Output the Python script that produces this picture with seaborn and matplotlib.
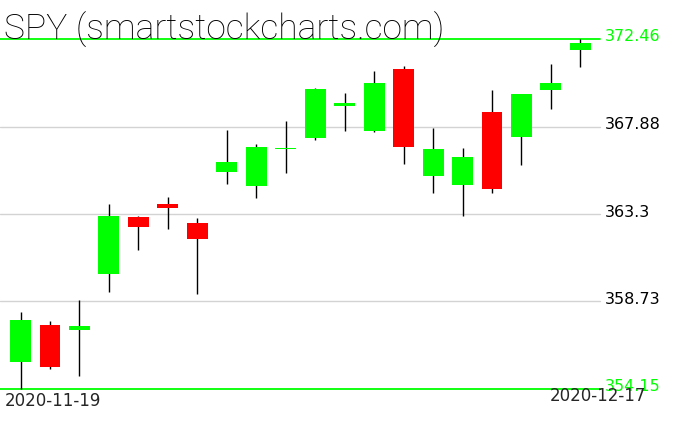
import matplotlib
matplotlib.use('Agg')
import matplotlib.pyplot as plt
import matplotlib.transforms as mtransforms
import seaborn as sns

# daily SPY candles
dates = ['2020-11-19', '2020-11-20', '2020-11-23', '2020-11-24', '2020-11-25',
         '2020-11-27', '2020-11-30', '2020-12-01', '2020-12-02', '2020-12-03',
         '2020-12-04', '2020-12-07', '2020-12-08', '2020-12-09', '2020-12-10',
         '2020-12-11', '2020-12-14', '2020-12-15', '2020-12-16', '2020-12-17']
opens = [355.58, 357.50, 357.24, 360.17, 363.15, 363.83, 362.83, 365.52, 364.79, 366.69,
         367.30, 368.97, 367.66, 370.89, 365.31, 364.84, 368.64, 367.35, 369.81, 371.90]
highs = [358.18, 357.71, 358.81, 363.83, 363.18, 364.19, 363.10, 367.70, 366.97, 368.17,
         369.88, 369.64, 370.79, 371.05, 367.80, 366.76, 369.78, 369.60, 371.15, 372.46]
lows = [354.15, 355.21, 354.85, 359.24, 361.44, 362.54, 359.14, 364.89, 364.16, 365.47,
        367.19, 367.66, 367.61, 365.94, 364.42, 363.22, 364.42, 365.88, 368.81, 371.01]
closes = [357.76, 355.32, 357.45, 363.20, 362.64, 363.63, 362.01, 366.03, 366.81, 366.72,
          369.84, 369.11, 370.16, 366.83, 366.71, 366.29, 364.63, 369.58, 370.16, 372.25]
levels = [372.46, 367.88, 363.3, 358.73, 354.15]

sns.set_style('white')
plt.rcParams['font.family'] = ['DejaVu Sans']

W, H = 676, 431
fig = plt.figure(figsize=(W / 100, H / 100), dpi=100)
ax = fig.add_axes([0, 0, 1, 1])
ax.axis('off')

# pixel geometry of the reference
step = 29.47          # px between candles
x0 = 20.5             # px of first candle
ppx = (levels[0] - levels[-1]) / 350.0   # price per pixel
ax.set_xlim(-x0 / step, (W - x0) / step)
ax.set_ylim(levels[-1] - 41 * ppx, levels[0] + 40 * ppx)

line_end = 600 / W
for i, lv in enumerate(levels):
    edge = i == 0 or i == len(levels) - 1
    ax.axhline(lv, xmin=0, xmax=line_end, color='#00ff00' if edge else '#d3d3d3',
               lw=1.3 if edge else 1.0, zorder=1)
    trans = mtransforms.offset_copy(ax.get_yaxis_transform(), fig=fig, x=0, y=3, units='dots')
    ax.text(605 / W, lv, f'{lv:g}', transform=trans, ha='left', va='center',
            fontsize=11.5, color='#00ff00' if edge else 'black')

xs = list(range(len(dates)))
cols = ['#00ff00' if c >= o else '#ff0000' for o, c in zip(opens, closes)]
bottoms = [min(o, c) for o, c in zip(opens, closes)]
heights = [max(abs(c - o), 0.06) for o, c in zip(opens, closes)]
ax.vlines(xs, lows, highs, color='black', lw=1.0, zorder=2)
ax.bar(xs, heights, bottom=bottoms, width=0.71, color=cols, zorder=3, linewidth=0)

fig.text(4 / W, (H - 40) / H, 'SPY (smartstockcharts.com)', fontsize=25.5,
         family='Roboto', fontweight='light', va='baseline', ha='left', color='black')
fig.text(5 / W, (H - 406) / H, dates[0], fontsize=12, va='baseline', ha='left')
fig.text(646 / W, (H - 401) / H, dates[-1], fontsize=12, va='baseline', ha='right')

fig.savefig('out.png', dpi=100)
